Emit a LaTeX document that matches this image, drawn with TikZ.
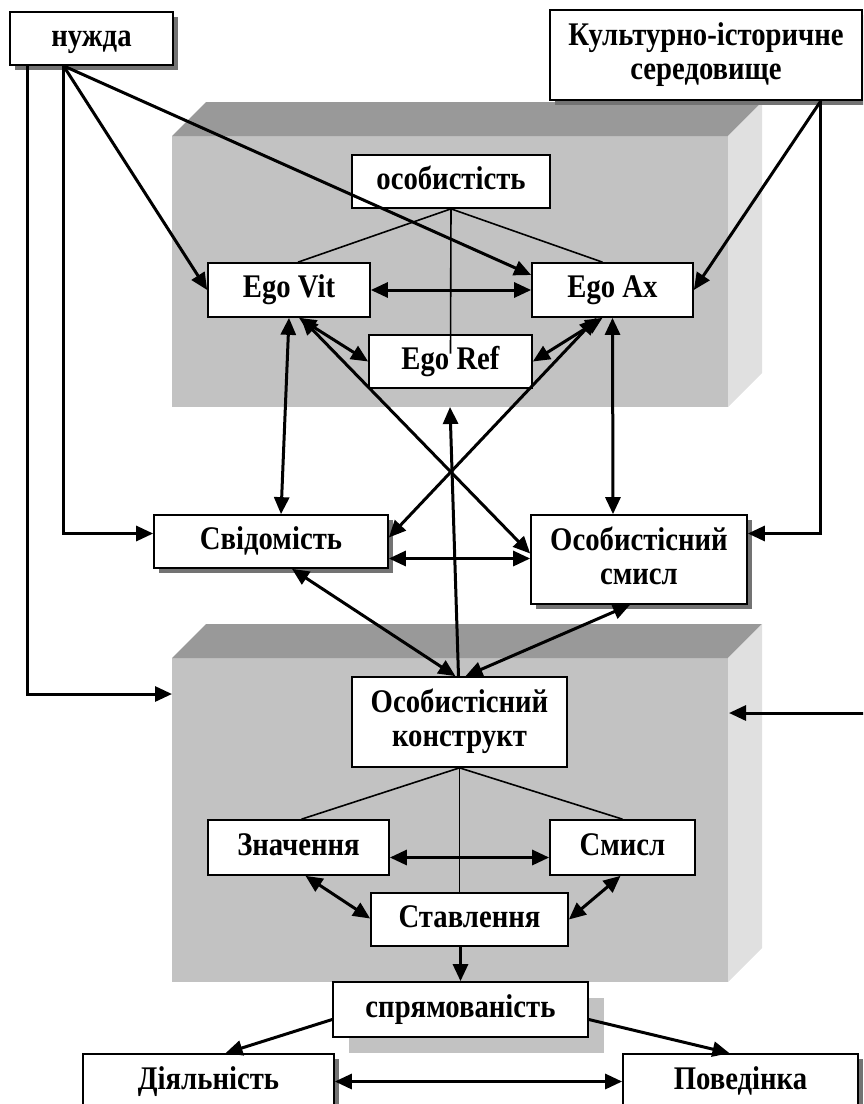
\documentclass[tikz,border=0pt]{standalone}
\usepackage{fontspec}
\setmainfont{Liberation Serif}[FakeStretch=0.87]
\usepackage{tikz}
\usetikzlibrary{arrows.meta, shadows}

\definecolor{blockfront}{gray}{0.76}
\definecolor{blocktop}{gray}{0.60}
\definecolor{blockside}{gray}{0.88}

\begin{document}
\begin{tikzpicture}[x=1pt,y=-1pt,
  box/.style={draw,line width=1.7pt,fill=white,inner sep=0pt,align=center,
    text height=22pt,text depth=7pt,font=\fontsize{33}{34}\selectfont\bfseries},
  twoline/.style={text height=56pt},
  shade/.style={drop shadow={shadow xshift=5pt,shadow yshift=-5pt,fill=black!55,opacity=1}},
  link/.style={line width=3pt,-{Triangle[length=17pt,width=15pt]}},
  both/.style={line width=3pt,{Triangle[length=17pt,width=15pt]}-{Triangle[length=17pt,width=15pt]}},
  tie/.style={line width=1.6pt}]
 \useasboundingbox (0,0) rectangle (863,1104);
 \clip (0,0) rectangle (863,1104);
%
 \fill[blockfront] (172,136) rectangle (728,407);
 \fill[blocktop] (172,136) -- (728,136) -- (762,102) -- (206,102) -- cycle;
 \fill[blockside] (728,136) -- (762,102) -- (762,373) -- (728,407) -- cycle;
 \fill[blockfront] (172,658) rectangle (728,982);
 \fill[blocktop] (172,658) -- (728,658) -- (762,624) -- (206,624) -- cycle;
 \fill[blockside] (728,658) -- (762,624) -- (762,948) -- (728,982) -- cycle;
%
 \node[box,shade,minimum width=163pt,minimum height=53pt] (nuzhda) at (91.5,38.5) {нужда};
 \node[box,twoline,shade,minimum width=312pt,minimum height=90pt] (kultura) at (706,55) {Культурно-історичне\\середовище};
 \node[box,minimum width=198pt,minimum height=53pt] (osobyst) at (451,181.5) {особистість};
 \node[box,minimum width=162pt,minimum height=54pt] (egovit) at (289,290) {Ego Vit};
 \node[box,minimum width=161pt,minimum height=54pt] (egoax) at (612.5,290) {Ego Ax};
 \node[box,minimum width=163pt,minimum height=53pt] (egoref) at (450.5,361.5) {Ego Ref};
 \node[box,shade,minimum width=234pt,minimum height=53pt] (svidom) at (271,541.5) {Свідомість};
 \node[box,twoline,shade,minimum width=216pt,minimum height=89pt] (osmysl) at (639,559.5) {Особистісний\\смисл};
 \node[box,twoline,minimum width=215pt,minimum height=90pt] (konstr) at (459.5,722) {Особистісний\\конструкт};
 \node[box,minimum width=181pt,minimum height=55pt] (znach) at (298.5,847.5) {Значення};
 \node[box,minimum width=145pt,minimum height=55pt] (smysl) at (622.5,847.5) {Смисл};
 \node[box,minimum width=197pt,minimum height=53pt] (stavl) at (469.5,919.5) {Ставлення};
 \node[box,minimum width=255pt,minimum height=55pt,
   drop shadow={shadow xshift=16pt,shadow yshift=-16pt,fill=blockfront,opacity=1}] (spryam) at (460.5,1009.5) {спрямованість};
 \node[box,shade,minimum width=251pt,minimum height=55pt] (diyaln) at (208.5,1081.5) {Діяльність};
 \node[box,shade,minimum width=235pt,minimum height=55pt] (povedin) at (740.5,1081.5) {Поведінка};
%
 \coordinate (nz) at ([xshift=-28pt]nuzhda.south);
 \coordinate (nzfar) at ([xshift=-64pt]nuzhda.south);
 \coordinate (kf) at ([xshift=-42pt]kultura.south east);
 \coordinate (upin) at (450,407);
 \coordinate (lowin) at (172,694);
 \coordinate (rim) at (866,713);
 \coordinate (rimin) at (729,713);
%
 \draw[link] (nz) -- (egovit.west);
 \draw[link] (nz) -- ([yshift=15pt]egoax.west);
 \draw[link] (nz) |- ([yshift=8pt]svidom.west);
 \draw[link] (nzfar) |- (lowin);
 \draw[link] (kf) -- (egoax.east);
 \draw[link] (kf) |- ([yshift=26pt]osmysl.east);
 \draw[link] (rim) -- (rimin);
%
 \draw[tie] (osobyst.south) -- ([xshift=9pt]egovit.north);
 \draw[tie] (osobyst.south) -- ([xshift=-10pt]egoax.north);
 \draw[tie] (osobyst.south) -- ([yshift=8pt]egoref.center);
 \draw[both] (egovit.east) -- (egoax.west);
 \draw[both] ([xshift=10pt]egovit.south) -- (egoref.west);
 \draw[both] ([xshift=-10pt]egoax.south) -- (egoref.east);
 \draw[both] (egovit.south) -- ([xshift=10pt]svidom.north);
 \draw[both] (egoax.south) -- ([xshift=-26pt]osmysl.north);
 \draw[both] ([xshift=12pt]egovit.south) -- ([yshift=6pt]osmysl.west);
 \draw[both] ([xshift=-16pt]egoax.south) -- ([yshift=4pt]svidom.east);
 \draw[both] ([yshift=-17pt]svidom.east) -- ([yshift=-17pt]svidom.east -| osmysl.west);
%
 \draw[both] ([xshift=21pt]svidom.south) -- ([xshift=-4pt]konstr.north);
 \draw[both] ([xshift=-9pt]osmysl.south) -- ([xshift=6pt]konstr.north);
 \draw[link] ([xshift=-1pt]konstr.north) -- (upin);
%
 \draw[tie] (konstr.south) -- ([xshift=3pt]znach.north);
 \draw[tie] (konstr.south) -- (smysl.north);
 \draw[tie] (konstr.south) -- (konstr.south |- stavl.north);
 \draw[both] ([yshift=-10pt]znach.east) -- ([yshift=-10pt]znach.east -| smysl.west);
 \draw[both] ([xshift=7pt]znach.south) -- ([yshift=1pt]stavl.west);
 \draw[both] ([xshift=-2pt]smysl.south) -- (stavl.east);
 \draw[link] (spryam.north |- stavl.south) -- (spryam.north);
%
 \draw[link] ([yshift=-10pt]spryam.west) -- ([xshift=17pt]diyaln.north);
 \draw[link] ([yshift=-10pt]spryam.east) -- ([xshift=-11pt]povedin.north);
 \draw[both] (diyaln.east) -- (povedin.west);
\end{tikzpicture}
\end{document}
